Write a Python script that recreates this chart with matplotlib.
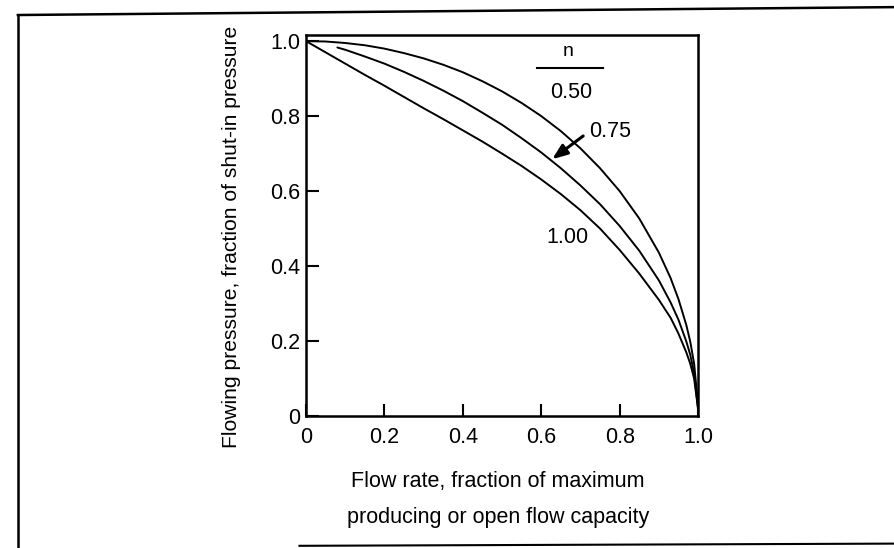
import matplotlib
matplotlib.use("Agg")
import matplotlib.pyplot as plt
from matplotlib.lines import Line2D

plt.rcParams['font.family'] = ['Liberation Sans', 'DejaVu Sans']

# flow rate (fraction of max) vs flowing pressure (fraction of shut-in) for each n
q_050 = [0.0, 0.05, 0.1, 0.15, 0.2, 0.25, 0.3, 0.35, 0.4, 0.45, 0.5, 0.55, 0.6,
         0.65, 0.7, 0.75, 0.8, 0.85, 0.9, 0.93, 0.95, 0.97, 0.98, 0.99, 1.0]
p_050 = [1.0, 0.999, 0.995, 0.989, 0.98, 0.968, 0.954, 0.937, 0.917, 0.893, 0.866, 0.835, 0.80,
         0.76, 0.714, 0.661, 0.60, 0.527, 0.436, 0.368, 0.312, 0.243, 0.199, 0.14, 0.03]

q_075 = [0.08, 0.1, 0.15, 0.2, 0.25, 0.3, 0.35, 0.4, 0.45, 0.5, 0.55, 0.6,
         0.65, 0.7, 0.75, 0.8, 0.85, 0.9, 0.93, 0.95, 0.97, 0.98, 0.99, 1.0]
p_075 = [0.983, 0.977, 0.959, 0.94, 0.918, 0.894, 0.868, 0.84, 0.809, 0.777, 0.741, 0.703,
         0.661, 0.615, 0.565, 0.507, 0.441, 0.362, 0.303, 0.257, 0.199, 0.164, 0.115, 0.02]

q_100 = [0.0, 0.05, 0.1, 0.15, 0.2, 0.25, 0.3, 0.35, 0.4, 0.45, 0.5, 0.55, 0.6,
         0.65, 0.7, 0.75, 0.8, 0.85, 0.9, 0.93, 0.95, 0.97, 0.98, 0.99, 1.0]
p_100 = [1.0, 0.97, 0.94, 0.91, 0.881, 0.851, 0.821, 0.792, 0.762, 0.732, 0.70, 0.667, 0.631,
         0.592, 0.549, 0.50, 0.443, 0.38, 0.31, 0.262, 0.22, 0.17, 0.14, 0.10, 0.02]

xticks = [0, 0.2, 0.4, 0.6, 0.8, 1.0]
xlabels = ['0', '0.2', '0.4', '0.6', '0.8', '1.0']
yticks = [0, 0.2, 0.4, 0.6, 0.8, 1.0]
ylabels = ['0', '0.2', '0.4', '0.6', '0.8', '1.0']

fig = plt.figure(figsize=(8.94, 5.48), dpi=100)
ax = fig.add_axes([0.3423, 0.2409, 0.4385, 0.695])

for q, p in [(q_050, p_050), (q_075, p_075), (q_100, p_100)]:
    ax.plot(q, p, color='black', lw=1.4, solid_capstyle='round')

ax.set_xlim(0, 1.0)
ax.set_ylim(0, 1.016)
ax.set_xticks(xticks)
ax.set_xticklabels(xlabels)
ax.set_yticks(yticks)
ax.set_yticklabels(ylabels)
ax.tick_params(axis='x', direction='in', length=8.6, width=1.5, pad=8, labelsize=15.5)
ax.tick_params(axis='y', direction='in', length=9, width=1.5, pad=4.3, labelsize=15.5)
for s in ax.spines.values():
    s.set_linewidth(1.8)

# n legend / labels on the curves
ax.text(0.668, 0.971, 'n', ha='center', va='center', fontsize=14)
ax.plot([0.589, 0.758], [0.928, 0.928], color='black', lw=1.5)
ax.text(0.676, 0.864, '0.50', ha='center', va='center', fontsize=15.5)
ax.text(0.776, 0.76, '0.75', ha='center', va='center', fontsize=15.5)
ax.annotate('', xy=(0.628, 0.685), xytext=(0.707, 0.747),
            arrowprops=dict(arrowstyle='-|>,head_length=0.9,head_width=0.35',
                            color='black', lw=2.2, shrinkA=0, shrinkB=0))
ax.text(0.666, 0.475, '1.00', ha='center', va='center', fontsize=15.5)

fig.text(232 / 894, 1 - 237 / 548, 'Flowing pressure, fraction of shut-in pressure',
         rotation=90, ha='center', va='center', fontsize=15.2)
fig.text(498 / 894, 1 - 482 / 548, 'Flow rate, fraction of maximum',
         ha='center', va='center', fontsize=15.5)
fig.text(498 / 894, 1 - 517 / 548, 'producing or open flow capacity',
         ha='center', va='center', fontsize=15.5)

# page frame
fig.add_artist(Line2D([0.020, 1.0], [0.9726, 0.987], color='black', lw=1.8))
fig.add_artist(Line2D([0.020, 0.020], [0.9726, 0.0], color='black', lw=1.8))
fig.add_artist(Line2D([0.335, 1.0], [0.004, 0.008], color='black', lw=1.5))

fig.savefig('out.png', dpi=100)
